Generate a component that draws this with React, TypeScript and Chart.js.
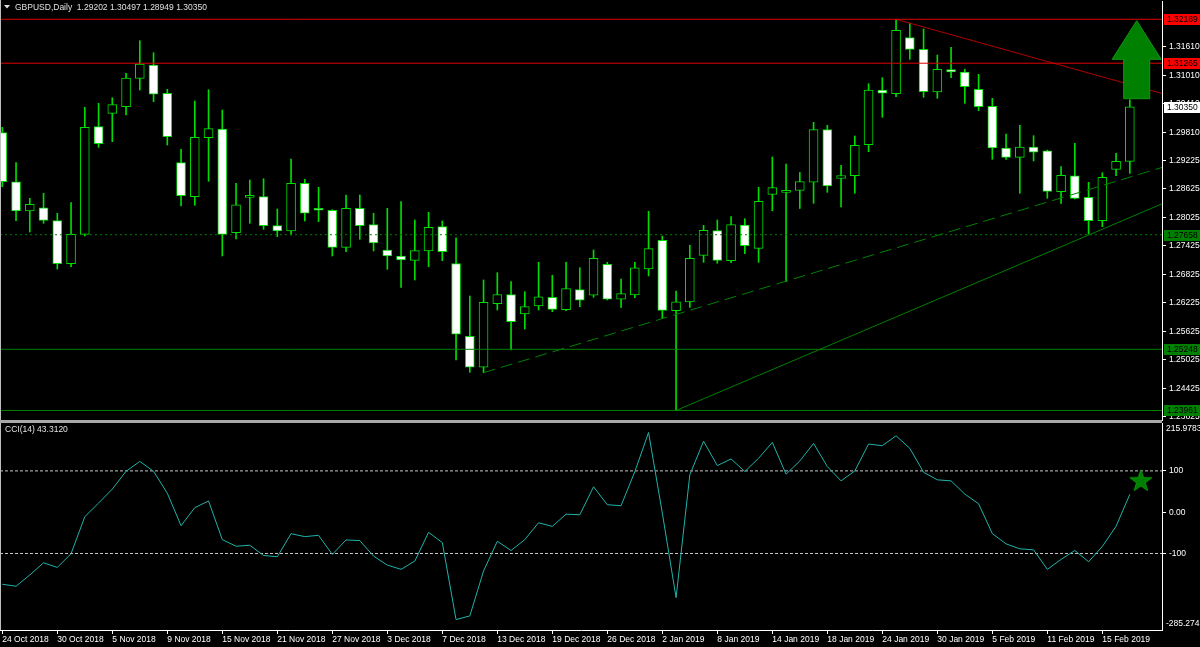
import React, { useEffect, useRef } from 'react';
import { Chart, registerables } from 'chart.js';

Chart.register(...registerables);

// ---------- DATA ----------
const barDates = [
  '24 Oct 2018', '25 Oct 2018', '26 Oct 2018', '29 Oct 2018', '30 Oct 2018', '31 Oct 2018', '1 Nov 2018', '2 Nov 2018',
  '5 Nov 2018', '6 Nov 2018', '7 Nov 2018', '8 Nov 2018', '9 Nov 2018', '12 Nov 2018', '13 Nov 2018', '14 Nov 2018',
  '15 Nov 2018', '16 Nov 2018', '19 Nov 2018', '20 Nov 2018', '21 Nov 2018', '22 Nov 2018', '23 Nov 2018', '26 Nov 2018',
  '27 Nov 2018', '28 Nov 2018', '29 Nov 2018', '30 Nov 2018', '3 Dec 2018', '4 Dec 2018', '5 Dec 2018', '6 Dec 2018',
  '7 Dec 2018', '10 Dec 2018', '11 Dec 2018', '12 Dec 2018', '13 Dec 2018', '14 Dec 2018', '17 Dec 2018', '18 Dec 2018',
  '19 Dec 2018', '20 Dec 2018', '21 Dec 2018', '24 Dec 2018', '26 Dec 2018', '27 Dec 2018', '28 Dec 2018', '31 Dec 2018',
  '2 Jan 2019', '3 Jan 2019', '4 Jan 2019', '7 Jan 2019', '8 Jan 2019', '9 Jan 2019', '10 Jan 2019', '11 Jan 2019',
  '14 Jan 2019', '15 Jan 2019', '16 Jan 2019', '17 Jan 2019', '18 Jan 2019', '21 Jan 2019', '22 Jan 2019', '23 Jan 2019',
  '24 Jan 2019', '25 Jan 2019', '28 Jan 2019', '29 Jan 2019', '30 Jan 2019', '31 Jan 2019', '1 Feb 2019', '4 Feb 2019',
  '5 Feb 2019', '6 Feb 2019', '7 Feb 2019', '8 Feb 2019', '11 Feb 2019', '12 Feb 2019', '13 Feb 2019', '14 Feb 2019',
  '15 Feb 2019', '18 Feb 2019', '19 Feb 2019',
];

const xTickLabels = [
  '24 Oct 2018', '30 Oct 2018', '5 Nov 2018', '9 Nov 2018', '15 Nov 2018', '21 Nov 2018', '27 Nov 2018',
  '3 Dec 2018', '7 Dec 2018', '13 Dec 2018', '19 Dec 2018', '26 Dec 2018', '2 Jan 2019', '8 Jan 2019',
  '14 Jan 2019', '18 Jan 2019', '24 Jan 2019', '30 Jan 2019', '5 Feb 2019', '11 Feb 2019', '15 Feb 2019',
];

const openP = [
  1.29804, 1.28773, 1.28157, 1.28226, 1.27953, 1.27049, 1.27667, 1.29930, 1.30212, 1.30351,
  1.30948, 1.31228, 1.30633, 1.29173, 1.28458, 1.29699, 1.29882, 1.27701, 1.28445, 1.28458,
  1.27848, 1.27736, 1.28740, 1.28214, 1.28172, 1.27393, 1.28214, 1.27869, 1.27337, 1.27211,
  1.27120, 1.27316, 1.27827, 1.27049, 1.25522, 1.24870, 1.26207, 1.26397, 1.25991, 1.26159,
  1.26342, 1.26081, 1.26502, 1.26384, 1.27036, 1.26300, 1.26390, 1.26937, 1.27541, 1.26060,
  1.26243, 1.27225, 1.27743, 1.27112, 1.27863, 1.27372, 1.28508, 1.28550, 1.28588, 1.28761,
  1.29867, 1.28841, 1.28899, 1.29551, 1.30702, 1.30624, 1.31802, 1.31558, 1.30660, 1.31129,
  1.31081, 1.30717, 1.30359, 1.29482, 1.29286, 1.29503, 1.29425, 1.28563, 1.28899, 1.28445,
  1.27953, 1.29034, 1.29202,
];
const highP = [
  1.29917, 1.29173, 1.28424, 1.28529, 1.28109, 1.28332, 1.30338, 1.30422, 1.30540, 1.31053,
  1.31739, 1.31486, 1.30717, 1.29455, 1.30471, 1.30708, 1.30281, 1.28740, 1.28809, 1.28836,
  1.28199, 1.29251, 1.28824, 1.28655, 1.28185, 1.28494, 1.28494, 1.28109, 1.28214, 1.28353,
  1.27968, 1.28130, 1.27947, 1.27595, 1.26369, 1.26706, 1.26859, 1.26670, 1.26460, 1.27078,
  1.26805, 1.27078, 1.26964, 1.27337, 1.27078, 1.26727, 1.27078, 1.28151, 1.27631, 1.26474,
  1.27436, 1.27856, 1.27968, 1.28037, 1.27995, 1.28655, 1.29293, 1.29146, 1.28967, 1.30023,
  1.29960, 1.29118, 1.29734, 1.30834, 1.30961, 1.32189, 1.32105, 1.31985, 1.31438, 1.31600,
  1.31137, 1.31032, 1.30527, 1.29776, 1.29960, 1.29741, 1.29440, 1.29089, 1.29581, 1.28761,
  1.28962, 1.29371, 1.30497,
];
const lowP = [
  1.28668, 1.27953, 1.27715, 1.27898, 1.26937, 1.26985, 1.27631, 1.29497, 1.29615, 1.30176,
  1.30702, 1.30456, 1.29545, 1.28262, 1.28277, 1.28782, 1.27211, 1.27568, 1.27898, 1.27772,
  1.27616, 1.27652, 1.27947, 1.27932, 1.27211, 1.27301, 1.27562, 1.27316, 1.26931, 1.26552,
  1.26706, 1.26985, 1.27112, 1.25023, 1.24764, 1.24756, 1.26075, 1.25233, 1.25675, 1.26075,
  1.26039, 1.26060, 1.26144, 1.26342, 1.26285, 1.26131, 1.26333, 1.26790, 1.25895, 1.23961,
  1.26131, 1.27078, 1.27057, 1.27070, 1.27259, 1.27078, 1.28163, 1.26670, 1.28210, 1.28319,
  1.28550, 1.28241, 1.28529, 1.29404, 1.30128, 1.30561, 1.31348, 1.30548, 1.30527, 1.30961,
  1.30422, 1.30267, 1.29244, 1.29244, 1.28529, 1.29209, 1.28424, 1.28319, 1.28410, 1.27673,
  1.27827, 1.28899, 1.28949,
];
const closeP = [
  1.28773, 1.28157, 1.28298, 1.27961, 1.27049, 1.27667, 1.29917, 1.29572, 1.30393, 1.30954,
  1.31249, 1.30612, 1.29720, 1.28479, 1.29707, 1.29888, 1.27667, 1.28289, 1.28487, 1.27848,
  1.27736, 1.28740, 1.28109, 1.28172, 1.27393, 1.28214, 1.27848, 1.27484, 1.27211, 1.27126,
  1.27322, 1.27814, 1.27301, 1.25564, 1.24870, 1.26237, 1.26397, 1.25829, 1.26144, 1.26354,
  1.26089, 1.26527, 1.26279, 1.27162, 1.26300, 1.26418, 1.26964, 1.27364, 1.26068, 1.26249,
  1.27162, 1.27751, 1.27120, 1.27869, 1.27427, 1.28361, 1.28647, 1.28592, 1.28777, 1.29867,
  1.28683, 1.28904, 1.29539, 1.30702, 1.30633, 1.31958, 1.31558, 1.30666, 1.31137, 1.31081,
  1.30771, 1.30351, 1.29482, 1.29286, 1.29503, 1.29392, 1.28571, 1.28908, 1.28424, 1.27953,
  1.28866, 1.29202, 1.30350,
];

const cciValues = [
  -174.5, -179.3, -152, -122.5, -133.7, -100.5, -11, 22, 56, 99,
  123, 99, 46, -32.7, 11, 27.2, -66.4, -82.4, -80, -104.8,
  -108, -52, -59.2, -56, -102.4, -67.2, -68.8, -106.4, -128, -138.4,
  -118.4, -48.8, -73.6, -260, -251.2, -142.4, -70.4, -92.8, -66.4, -25.6,
  -34.4, -4.8, -6.2, 61.5, 18.1, 15.7, 98, 193, -2, -207,
  90.4, 172, 112.8, 128.9, 98.4, 130.5, 169, 92, 124, 166.6,
  110.4, 75.9, 100, 165, 161, 185, 154.6, 96.8, 78.3, 75.9,
  43.8, 20.5, -51.8, -76.7, -88.7, -91.1, -138.5, -114.4, -92.7, -120,
  -83.1, -34.1, 43.312,
];

const priceTicks = [1.3161, 1.3101, 1.3041, 1.2981, 1.29225, 1.28625, 1.28025, 1.27425, 1.26825, 1.26225, 1.25625, 1.25025, 1.24425, 1.23825];
const priceRange = [1.23761, 1.32574];
const cciTicks = [100, 0, -100];
const cciTickText = ['100', '0.00', '-100'];
const cciRange = [-285.274, 215.9783];
const cciLevels = [100, -100];
const xRange = [-0.167, 84.34];

const redLevels = [1.32189, 1.31265];
const greenDottedLevels = [1.27658];
const greenLevels = [1.25248, 1.23961];
// trend lines: [start bar index, start price, price change per bar]
const redTrend = [65, 1.32189, -0.000807];
const greenDashedTrend = [35, 1.24756, 0.000875];
const greenSolidTrend = [49, 1.23961, 0.00123];
// arrow object: [bar index, tip price, neck price, base price]
const arrowUp = [82.5, 1.3216, 1.31348, 1.30519];
// star marker on CCI: [bar index, cci value]
const cciStar = [82.8, 76];

// ---------- STYLE ----------
const FONT = "'Liberation Sans', Arial, sans-serif";
const FS = 8.5;
const LIME = '#00dc00';
const DKGREEN = '#008000';
const RED = '#e00000';
const DKRED = '#b00000';

function makeStar(): HTMLCanvasElement {
  const c = document.createElement('canvas');
  c.width = 24; c.height = 24;
  const g = c.getContext('2d')!;
  g.beginPath();
  const cx = 12, cy = 12.5, R = 11.5, r = 4.6;
  for (let k = 0; k < 10; k++) {
    const rad = k % 2 === 0 ? R : r;
    const a = -Math.PI / 2 + (k * Math.PI) / 5;
    const px = cx + rad * Math.cos(a);
    const py = cy + rad * Math.sin(a);
    if (k === 0) g.moveTo(px, py); else g.lineTo(px, py);
  }
  g.closePath();
  g.fillStyle = '#008000';
  g.fill();
  g.strokeStyle = '#0a9a0a';
  g.lineWidth = 1;
  g.stroke();
  return c;
}

export default function App() {
  const mainRef = useRef<HTMLCanvasElement>(null);
  const cciRef = useRef<HTMLCanvasElement>(null);

  useEffect(() => {
    document.body.style.margin = '0';
    document.body.style.background = '#000';
    const idx = barDates.map((_, i) => i);
    const n = idx.length;

    const hLine = (v: number) => [{ x: xRange[0], y: v }, { x: xRange[1], y: v }];
    const trend = (t: number[]) => [
      { x: t[0], y: t[1] },
      { x: xRange[1], y: t[1] + t[2] * (xRange[1] - t[0]) },
    ];
    const lineDs = (data: any, color: string, dash: number[] = []) => ({
      type: 'line' as const,
      data,
      borderColor: color,
      borderWidth: 1,
      borderDash: dash,
      pointRadius: 0,
      fill: false,
      order: 0,
    });
    const fitY = (s: any) => { s.width = 38; s.paddingTop = 0; s.paddingBottom = 0; };

    const mainOverlay = {
      id: 'mainOverlay',
      afterDatasetsDraw(chart: any) {
        const { ctx, scales } = chart;
        const x = scales.x, y = scales.y;
        const cx = x.getPixelForValue(arrowUp[0]);
        const yTip = y.getPixelForValue(arrowUp[1]);
        const yNeck = y.getPixelForValue(arrowUp[2]);
        const yBase = y.getPixelForValue(arrowUp[3]);
        ctx.save();
        ctx.beginPath();
        ctx.moveTo(cx, yTip);
        ctx.lineTo(cx + 24.5, yNeck);
        ctx.lineTo(cx + 13, yNeck);
        ctx.lineTo(cx + 13, yBase);
        ctx.lineTo(cx - 13, yBase);
        ctx.lineTo(cx - 13, yNeck);
        ctx.lineTo(cx - 24.5, yNeck);
        ctx.closePath();
        ctx.fillStyle = '#008000';
        ctx.fill();
        ctx.strokeStyle = '#109810';
        ctx.lineWidth = 1;
        ctx.stroke();
        ctx.restore();
      },
      afterDraw(chart: any) {
        const { ctx, chartArea, scales } = chart;
        const y = scales.y;
        ctx.save();
        // separator and left border
        ctx.fillStyle = '#a8a8a8';
        ctx.fillRect(0, chartArea.bottom, chartArea.right, 2);
        ctx.fillStyle = '#bdbdbd';
        ctx.fillRect(0, 0, 1, chartArea.bottom);
        // header
        ctx.fillStyle = '#e0e0e0';
        ctx.beginPath();
        ctx.moveTo(4, 5); ctx.lineTo(10, 5); ctx.lineTo(7, 8.5); ctx.closePath();
        ctx.fill();
        ctx.font = `${FS}px ${FONT}`;
        ctx.textBaseline = 'middle';
        ctx.textAlign = 'left';
        const last = n - 1;
        ctx.fillText(
          `GBPUSD,Daily  ${openP[last].toFixed(5)} ${highP[last].toFixed(5)} ${lowP[last].toFixed(5)} ${closeP[last].toFixed(5)}`,
          15, 7.5,
        );
        // price boxes
        const boxes: [number, string, string][] = [
          ...redLevels.map((v) => [v, '#ff0000', '#000000'] as [number, string, string]),
          [closeP[last], '#ffffff', '#000000'],
          ...greenDottedLevels.map((v) => [v, '#008000', '#000000'] as [number, string, string]),
          ...greenLevels.map((v) => [v, '#008000', '#000000'] as [number, string, string]),
        ];
        for (const [v, bg, fg] of boxes) {
          const py = Math.round(y.getPixelForValue(v));
          ctx.fillStyle = bg;
          ctx.fillRect(chartArea.right + 2, py - 5, 36, 11);
          ctx.fillStyle = fg;
          ctx.fillText(v.toFixed(5), chartArea.right + 5, py + 0.5);
        }
        ctx.restore();
      },
    };

    const c1 = new Chart(mainRef.current!, {
      type: 'bar',
      data: {
        datasets: [
          {
            type: 'bar',
            data: idx.map((i) => ({ x: i, y: [lowP[i], highP[i]] })) as any,
            backgroundColor: LIME,
            borderWidth: 0,
            barThickness: 1,
            grouped: false,
            order: 3,
          },
          {
            type: 'bar',
            data: idx.map((i) => ({ x: i, y: [openP[i], closeP[i]] })) as any,
            backgroundColor: idx.map((i) => (closeP[i] >= openP[i] ? '#000000' : '#ffffff')),
            borderColor: LIME,
            borderWidth: 1,
            borderSkipped: false,
            barThickness: 9,
            grouped: false,
            order: 2,
          },
          ...redLevels.map((v) => lineDs(hLine(v), RED)),
          ...greenDottedLevels.map((v) => lineDs(hLine(v), DKGREEN, [2, 3])),
          ...greenLevels.map((v) => lineDs(hLine(v), DKGREEN)),
          lineDs(trend(redTrend), DKRED),
          lineDs(trend(greenDashedTrend), DKGREEN, [12, 6]),
          lineDs(trend(greenSolidTrend), DKGREEN),
        ] as any,
      },
      options: {
        responsive: false,
        animation: false,
        events: [],
        layout: { autoPadding: false, padding: { top: 1, bottom: 2, left: 0, right: 0 } },
        plugins: { legend: { display: false }, tooltip: { enabled: false } },
        scales: {
          x: {
            type: 'linear',
            min: xRange[0],
            max: xRange[1],
            offset: false,
            display: false,
            grid: { offset: false },
          },
          y: {
            type: 'linear',
            position: 'right',
            min: priceRange[0],
            max: priceRange[1],
            afterFit: fitY,
            afterBuildTicks: (s: any) => { s.ticks = priceTicks.map((v) => ({ value: v })); },
            ticks: {
              autoSkip: false,
              color: '#ffffff',
              font: { family: FONT, size: FS },
              padding: 3,
              callback: (v: any) => Number(v).toFixed(5),
            },
            grid: { display: true, drawOnChartArea: false, drawTicks: true, tickLength: 4, color: '#ffffff' },
            border: { display: true, color: '#ffffff', width: 1 },
          },
        },
      } as any,
      plugins: [mainOverlay],
    });

    const star = makeStar();
    const cciOverlay = {
      id: 'cciOverlay',
      afterDraw(chart: any) {
        const { ctx, chartArea } = chart;
        ctx.save();
        ctx.fillStyle = '#a8a8a8';
        ctx.fillRect(0, 0, chartArea.right, 1);
        ctx.fillStyle = '#bdbdbd';
        ctx.fillRect(0, chartArea.top, 1, chartArea.bottom - chartArea.top);
        ctx.font = `${FS}px ${FONT}`;
        ctx.textBaseline = 'middle';
        ctx.textAlign = 'left';
        ctx.fillStyle = '#e0e0e0';
        ctx.fillText(`CCI(14) ${cciValues[cciValues.length - 1].toFixed(4)}`, 5, chartArea.top + 7);
        ctx.fillStyle = '#ffffff';
        ctx.fillText(cciRange[1].toFixed(4), chartArea.right + 4, chartArea.top + 6);
        ctx.fillText(cciRange[0].toFixed(3), chartArea.right + 4, chartArea.bottom - 6);
        ctx.restore();
      },
    };

    const c2 = new Chart(cciRef.current!, {
      type: 'line',
      data: {
        datasets: [
          {
            type: 'scatter',
            data: [{ x: cciStar[0], y: cciStar[1] }],
            pointStyle: star as any,
            pointRadius: 12,
            clip: false,
            order: 0,
          },
          {
            type: 'line',
            data: idx.map((i) => ({ x: i, y: cciValues[i] })),
            borderColor: '#20b2aa',
            borderWidth: 1,
            pointRadius: 0,
            tension: 0,
            order: 1,
          },
          ...cciLevels.map((v) => ({ ...lineDs(hLine(v), '#c8c8c8', [3, 2]), order: 2 })),
        ] as any,
      },
      options: {
        responsive: false,
        animation: false,
        events: [],
        layout: { autoPadding: false, padding: { top: 1, bottom: 0, left: 0, right: 0 } },
        plugins: { legend: { display: false }, tooltip: { enabled: false } },
        scales: {
          x: {
            type: 'linear',
            min: xRange[0],
            max: xRange[1],
            offset: false,
            afterFit: (s: any) => { s.height = 17; s.paddingLeft = 0; s.paddingRight = 0; },
            afterBuildTicks: (s: any) => {
              s.ticks = xTickLabels.map((d) => ({ value: barDates.indexOf(d) }));
            },
            ticks: {
              autoSkip: false,
              maxRotation: 0,
              minRotation: 0,
              align: 'start',
              padding: 1,
              color: '#ffffff',
              font: { family: FONT, size: FS },
              callback: (v: any) => barDates[Math.round(Number(v))],
            },
            grid: { display: true, drawOnChartArea: false, drawTicks: true, tickLength: 4, color: '#ffffff', offset: false },
            border: { display: true, color: '#ffffff', width: 1 },
          },
          y: {
            type: 'linear',
            position: 'right',
            min: cciRange[0],
            max: cciRange[1],
            afterFit: fitY,
            afterBuildTicks: (s: any) => { s.ticks = cciTicks.map((v) => ({ value: v })); },
            ticks: {
              autoSkip: false,
              color: '#ffffff',
              font: { family: FONT, size: FS },
              padding: 3,
              callback: (v: any) => cciTickText[cciTicks.indexOf(Number(v))],
            },
            grid: { display: true, drawOnChartArea: false, drawTicks: true, tickLength: 4, color: '#ffffff' },
            border: { display: true, color: '#ffffff', width: 1 },
          },
        },
      } as any,
      plugins: [cciOverlay],
    });

    return () => {
      c1.destroy();
      c2.destroy();
    };
  }, []);

  return (
    <div style={{ position: 'fixed', left: 0, top: 0, width: 1200, height: 647, background: '#000' }}>
      <canvas ref={mainRef} width={1200} height={422} style={{ position: 'absolute', left: 0, top: 0, display: 'block' }} />
      <canvas ref={cciRef} width={1200} height={225} style={{ position: 'absolute', left: 0, top: 422, display: 'block' }} />
    </div>
  );
}
